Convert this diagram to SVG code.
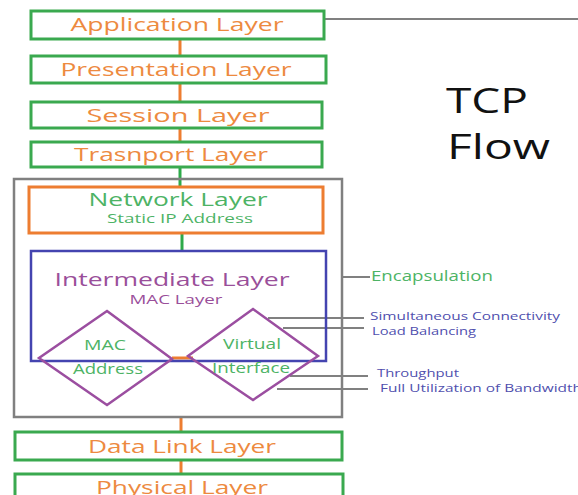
<svg xmlns="http://www.w3.org/2000/svg" width="578" height="495" viewBox="0 0 578 495">
<style>
text{font-family:"Open Sans","Noto Sans",sans-serif;}
.gbox{fill:none;stroke:#3aa94f;stroke-width:3;}
.lt{fill:#ed8a3f;font-size:19px;text-anchor:middle;}
.conO{stroke:#ed7d31;stroke-width:3;fill:none;}
.conG{stroke:#2eaa4a;stroke-width:3;fill:none;}
.gray{stroke:#808080;stroke-width:2;fill:none;}
.grn{fill:#4db365;text-anchor:middle;}
.pur{fill:#9a4f9a;text-anchor:middle;}
.lbl{fill:#4f4fae;font-size:11.5px;}
.dia{fill:none;stroke:#9b4ea0;stroke-width:2.5;}
</style>
<rect width="578" height="495" fill="#fff"/>
<g id="connectors">
<line class="conO" x1="180" y1="39" x2="180" y2="56"/>
<line class="conO" x1="180" y1="83" x2="180" y2="102"/>
<line class="conO" x1="180" y1="128" x2="180" y2="142"/>
<line class="conG" x1="180" y1="167" x2="180" y2="187"/>
<line class="conG" x1="182" y1="233" x2="182" y2="251"/>
<line class="conO" x1="172" y1="358" x2="193" y2="358"/>
<line class="conO" x1="181" y1="417" x2="181" y2="432"/>
<line class="conO" x1="181" y1="460" x2="181" y2="474"/>
<line class="gray" x1="324" y1="19" x2="578" y2="19"/>
<line class="gray" x1="342" y1="277" x2="370" y2="277"/>
<line class="gray" x1="268" y1="318" x2="364" y2="318"/>
<line class="gray" x1="283" y1="328" x2="364" y2="328"/>
<line class="gray" x1="290" y1="376" x2="368" y2="376"/>
<line class="gray" x1="277" y1="389" x2="368" y2="389"/>
</g>
<g id="tcp-flow">
<text x="446" y="113" font-size="35" fill="#111" textLength="82" lengthAdjust="spacingAndGlyphs">TCP</text>
<text x="447" y="159" font-size="35" fill="#111" textLength="103" lengthAdjust="spacingAndGlyphs">Flow</text>
</g>
<g id="application">
<rect class="gbox" x="31" y="11" width="293" height="28"/>
<text class="lt" x="177" y="31" textLength="213" lengthAdjust="spacingAndGlyphs">Application Layer</text>
</g>
<g id="presentation">
<rect class="gbox" x="31" y="56" width="295" height="27"/>
<text class="lt" x="176" y="76" textLength="231" lengthAdjust="spacingAndGlyphs">Presentation Layer</text>
</g>
<g id="session">
<rect class="gbox" x="31" y="102" width="291" height="26"/>
<text class="lt" x="178" y="122" textLength="183" lengthAdjust="spacingAndGlyphs">Session Layer</text>
</g>
<g id="transport">
<rect class="gbox" x="31" y="142" width="291" height="25"/>
<text class="lt" x="171" y="161" textLength="194" lengthAdjust="spacingAndGlyphs">Trasnport Layer</text>
</g>
<g id="container">
<rect x="14" y="179" width="328" height="238" fill="none" stroke="#808080" stroke-width="2.5"/>
</g>
<g id="network">
<rect x="29" y="187" width="294" height="46" fill="none" stroke="#ed7d31" stroke-width="3"/>
<text class="grn" x="178" y="206" font-size="18" textLength="179" lengthAdjust="spacingAndGlyphs">Network Layer</text>
<text class="grn" x="180" y="223" font-size="12" textLength="146" lengthAdjust="spacingAndGlyphs">Static IP Address</text>
</g>
<g id="intermediate">
<rect x="31" y="251" width="295" height="110" fill="none" stroke="#4444b0" stroke-width="2.5"/>
<text class="pur" x="172" y="286" font-size="19" textLength="235" lengthAdjust="spacingAndGlyphs">Intermediate Layer</text>
<text class="pur" x="176" y="304" font-size="13" textLength="93" lengthAdjust="spacingAndGlyphs">MAC Layer</text>
</g>
<g id="mac-address">
<polygon class="dia" points="107,311 172,359 107,405 39,358"/>
<text class="grn" x="105" y="350" font-size="15" textLength="42" lengthAdjust="spacingAndGlyphs">MAC</text>
<text class="grn" x="108" y="374" font-size="15" textLength="70" lengthAdjust="spacingAndGlyphs">Address</text>
</g>
<g id="virtual-interface">
<polygon class="dia" points="253,309 318,356 253,400 188,356"/>
<text class="grn" x="252" y="349" font-size="15" textLength="58" lengthAdjust="spacingAndGlyphs">Virtual</text>
<text class="grn" x="251" y="373" font-size="15" textLength="78" lengthAdjust="spacingAndGlyphs">Interface</text>
</g>
<g id="labels">
<text x="371" y="281" font-size="14" fill="#4db365" textLength="122" lengthAdjust="spacingAndGlyphs">Encapsulation</text>
<text class="lbl" x="370" y="320" textLength="190" lengthAdjust="spacingAndGlyphs">Simultaneous Connectivity</text>
<text class="lbl" x="372" y="335" textLength="104" lengthAdjust="spacingAndGlyphs">Load Balancing</text>
<text class="lbl" x="377" y="377" textLength="82" lengthAdjust="spacingAndGlyphs">Throughput</text>
<text class="lbl" x="380" y="392" textLength="202" lengthAdjust="spacingAndGlyphs">Full Utilization of Bandwidth</text>
</g>
<g id="data-link">
<rect class="gbox" x="15" y="432" width="327" height="28"/>
<text class="lt" x="182" y="453" textLength="188" lengthAdjust="spacingAndGlyphs">Data Link Layer</text>
</g>
<g id="physical">
<rect class="gbox" x="15" y="474" width="328" height="30"/>
<text class="lt" x="182" y="494" textLength="172" lengthAdjust="spacingAndGlyphs">Physical Layer</text>
</g>
</svg>
